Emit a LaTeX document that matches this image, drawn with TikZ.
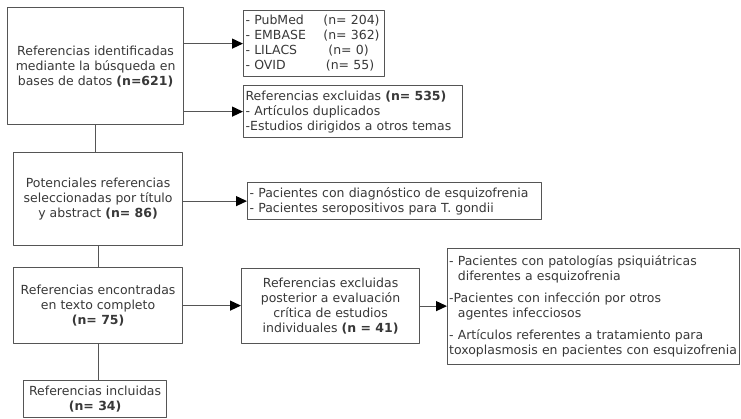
\documentclass[tikz,border=0pt]{standalone}
\usepackage{fontspec}
\setmainfont{DejaVu Sans}
\usetikzlibrary{arrows.meta}
\definecolor{texto}{HTML}{383838}
\definecolor{borde}{HTML}{555555}
\begin{document}
\begin{tikzpicture}[x=1pt,y=-1pt,>={Triangle[length=11pt,width=10pt,color=black]},line join=round]
	\tikzset{caja/.style={draw=borde,line width=1.2pt,text=texto,font=\fontsize{12.5}{15}\selectfont,anchor=north west,inner sep=2pt,align=center},
		lista/.style={caja,align=left},
		flecha/.style={->,draw=borde,line width=1.2pt},
		linea/.style={draw=borde,line width=1.2pt}}
	%%Marco de la figura
	\useasboundingbox (0,0) rectangle (741,418);
	%%Columna principal
	\draw (7,7) node[caja,minimum width=176pt,minimum height=117pt] (ident) {Referencias identificadas\\mediante la búsqueda en\\bases de datos \textbf{(n=621)}};
	\draw (13,152) node[caja,minimum width=169pt,minimum height=93pt] (poten) {Potenciales referencias\\seleccionadas por título\\y abstract \textbf{(n= 86)}};
	\draw (13,267) node[caja,minimum width=169pt,minimum height=76pt] (encon) {Referencias encontradas\\en texto completo\\\textbf{(n= 75)}};
	\draw (23,380) node[caja,minimum width=143pt,minimum height=37pt] (inclu) {Referencias incluidas\\\textbf{(n= 34)}};
	%%Cajas de la derecha
	\draw (243,10) node[lista,text width=137pt,minimum height=66pt] (bases) {\begin{tabular}{@{}l@{\hspace{1.4em}}l@{}}
			- PubMed & (n= 204)\\
			- EMBASE & (n= 362)\\
			- LILACS & \hspace{0.4em}(n= 0)\\
			- OVID & \hspace{0.2em}(n= 55)
		\end{tabular}};
	\draw (243,85) node[lista,text width=215pt,minimum height=52pt] (exclu) {Referencias excluidas \textbf{(n= 535)}\\- Artículos duplicados\\-Estudios dirigidos a otros temas};
	\draw (247,182) node[lista,text width=290pt,minimum height=37pt] (pacie) {- Pacientes con diagnóstico de esquizofrenia\\- Pacientes seropositivos para T. gondii};
	\draw (241,268) node[caja,minimum width=178pt,minimum height=75pt] (critic) {Referencias excluidas\\posterior a evaluación\\crítica de estudios\\individuales \textbf{(n = 41)}};
	\draw (447,248) node[lista,inner xsep=1.5pt,text width=289pt,minimum height=116pt] (otros) {- Pacientes con patologías psiquiátricas\\
		\hspace*{0.7em}diferentes a esquizofrenia\\[7pt]
		-Pacientes con infección por otros\\
		\hspace*{0.7em}agentes infecciosos\\[7pt]
		- Artículos referentes a tratamiento para\\
		toxoplasmosis en pacientes con esquizofrenia};
	%%Conectores
	\draw[linea] (ident.south) -- (ident.south |- poten.north);
	\draw[linea] (poten.south) -- (poten.south |- encon.north);
	\draw[linea] (inclu.north -| encon.south) -- (encon.south);
	\draw[flecha] (ident.east |- bases.west) -- (bases.west);
	\draw[flecha] (ident.east |- exclu.west) -- (exclu.west);
	\draw[flecha] (poten.east |- pacie.west) -- (pacie.west);
	\draw[flecha] (encon.east) -- (encon.east -| critic.west);
	\draw[flecha] (critic.east) -- (critic.east -| otros.west);
\end{tikzpicture}
\end{document}
